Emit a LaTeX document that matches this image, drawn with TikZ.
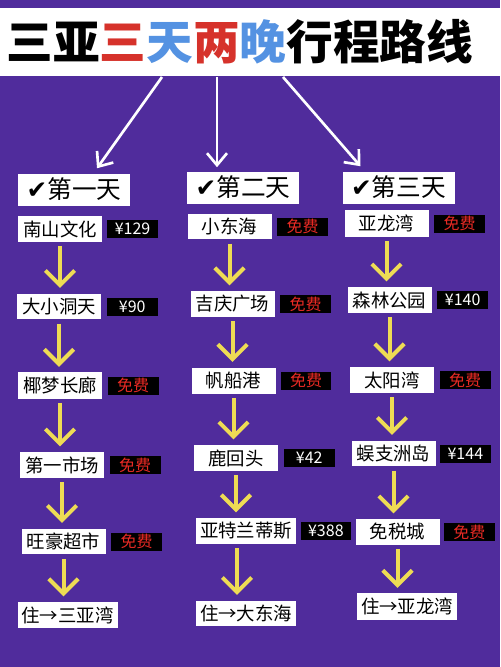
\documentclass[tikz,border=0pt]{standalone}
\usepackage{fontspec}
\usepackage{xcolor}
\usetikzlibrary{positioning,arrows.meta,calc}
\newfontfamily\cjk{Noto Sans CJK SC}
\newfontfamily\symfont{DejaVu Sans}
\definecolor{bgpurple}{RGB}{80,44,156}
\definecolor{titlered}{RGB}{214,50,43}
\definecolor{titleblue}{RGB}{84,146,226}
\definecolor{arrowyellow}{RGB}{238,220,84}
\definecolor{feered}{RGB}{232,42,36}

\begin{document}
\begin{tikzpicture}[
    x=0.75pt, y=-0.75pt,
    spot/.style={
        rectangle,fill=white,
        minimum width=63pt,
        minimum height=18pt,
        inner xsep=3pt,
        font=\cjk\fontsize{13.8}{14}\selectfont
    },
    price/.style={
        rectangle,fill=black,text=white,
        minimum width=38pt,
        minimum height=13.5pt,
        inner sep=1pt,
        font=\cjk\fontsize{12}{12}\selectfont
    },
    free/.style={price,text=feered},
    day/.style={
        rectangle,fill=white,
        minimum width=84pt,
        minimum height=24pt,
        inner sep=1pt,
        font=\cjk\fontsize{18.5}{19}\selectfont
    },
    flow/.style={draw=arrowyellow,line width=3pt,
        -{Straight Barb[length=11pt,width=22pt]},
        shorten <=3pt,shorten >=4pt},
    ray/.style={draw=white,line width=2pt,
        -{Straight Barb[length=9pt,width=15pt]}}
]
\fill[bgpurple] (0,0) rectangle (500,667);
\useasboundingbox (0,0) rectangle (500,667);

% title band
\node[fill=white, minimum width=375pt, minimum height=51pt, inner sep=0] (band) at (250,42) {};
\node[inner sep=0, font=\cjk\bfseries\fontsize{35}{36}\selectfont] (title) at (240,42)
    {三亚\textcolor{titlered}{三}\textcolor{titleblue}{天}\textcolor{titlered}{两}\textcolor{titleblue}{晚}行程路线};

% day headers
\node[day] (d1) at (74,189.5) {{\symfont ✔}第一天};
\node[day] (d2) at (243,187.5) {{\symfont ✔}第二天};
\node[day] (d3) at (398.5,187.5) {{\symfont ✔}第三天};

\coordinate (o1) at (162,77);
\coordinate (o2) at (217,77);
\coordinate (o3) at (283,77);
\draw[ray] (o1) -- ($(d1.north)+(23,-5)$);
\draw[ray] (o2) -- ($(d2.north)+(-26,-4)$);
\draw[ray] (o3) -- ($(d3.north)+(-38,-5)$);

% day one
\node[spot] (s11) at (60,229) {南山文化};
\node[price, right=3.5pt of s11] (p11) {¥129};
\node[spot] (s12) at (59,306.5) {大小洞天};
\node[price, right=4pt of s12] (p12) {¥90};
\node[spot] (s13) at (60,385.5) {椰梦长廊};
\node[free, right=4pt of s13] (p13) {免费};
\node[spot] (s14) at (62,465) {第一市场};
\node[free, right=4pt of s14] (p14) {免费};
\node[spot] (s15) at (63.5,541.5) {旺豪超市};
\node[free, right=4pt of s15] (p15) {免费};
\node[spot] (s16) at (67.5,615) {住→三亚湾};

% day two
\node[spot] (s21) at (229.5,226.5) {小东海};
\node[free, right=4pt of s21] (p21) {免费};
\node[spot] (s22) at (232.5,304) {吉庆广场};
\node[free, right=4pt of s22] (p22) {免费};
\node[spot] (s23) at (233.5,380.5) {帆船港};
\node[free, right=3.5pt of s23] (p23) {免费};
\node[spot] (s24) at (236,458) {鹿回头};
\node[price, right=4pt of s24] (p24) {¥42};
\node[spot] (s25) at (246,531) {亚特兰蒂斯};
\node[price, right=3pt of s25] (p25) {¥388};
\node[spot] (s26) at (246,613.5) {住→大东海};

% day three
\node[spot] (s31) at (386.5,223.5) {亚龙湾};
\node[free, right=4pt of s31] (p31) {免费};
\node[spot] (s32) at (389.5,300) {森林公园};
\node[price, right=4pt of s32] (p32) {¥140};
\node[spot] (s33) at (392,380) {太阳湾};
\node[free, right=4pt of s33] (p33) {免费};
\node[spot] (s34) at (393.5,453.5) {蜈支洲岛};
\node[price, right=3pt of s34] (p34) {¥144};
\node[spot] (s35) at (397.5,532) {免税城};
\node[free, right=3pt of s35] (p35) {免费};
\node[spot] (s36) at (407,606.5) {住→亚龙湾};

% routes
\draw[flow] (s11.south) -- (s11.south |- s12.north);
\draw[flow] (s12.south) -- (s12.south |- s13.north);
\draw[flow] (s13.south) -- (s13.south |- s14.north);
\draw[flow] (s14.south) -- (s14.south |- s15.north);
\draw[flow] (s15.south) -- (s15.south |- s16.north);

\draw[flow] (s21.south) -- (s21.south |- s22.north);
\draw[flow] (s22.south) -- (s22.south |- s23.north);
\draw[flow] (s23.south) -- (s23.south |- s24.north);
\draw[flow] (s24.south) -- (s24.south |- s25.north);
\draw[flow] ($(s25.south)+(-9,0)$) -- ($(s25.south |- s26.north)+(-9,0)$);

\draw[flow] (s31.south) -- (s31.south |- s32.north);
\draw[flow] (s32.south) -- (s32.south |- s33.north);
\draw[flow] (s33.south) -- (s33.south |- s34.north);
\draw[flow] (s34.south) -- (s34.south |- s35.north);
\draw[flow] (s35.south) -- (s35.south |- s36.north);
\end{tikzpicture}
\end{document}
